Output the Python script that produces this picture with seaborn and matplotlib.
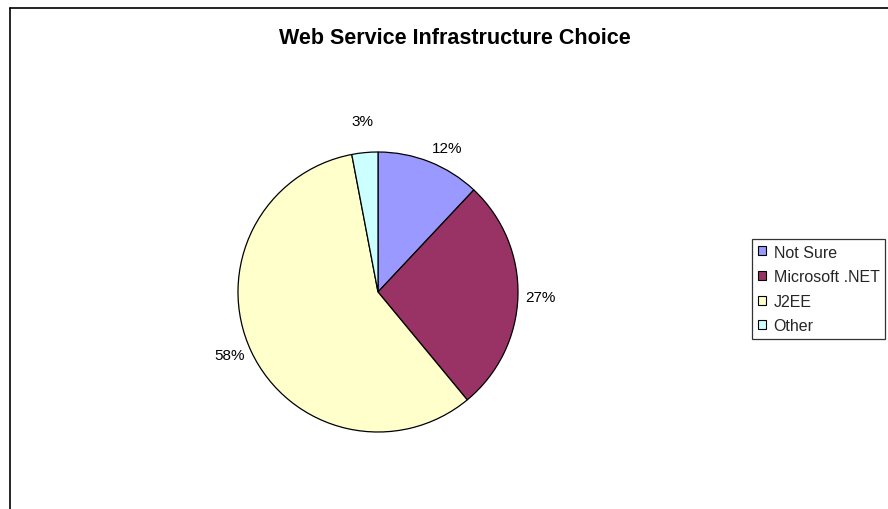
import matplotlib
matplotlib.use("Agg")
import numpy as np
import matplotlib.pyplot as plt
import seaborn as sns
from matplotlib.patches import Patch
from matplotlib.lines import Line2D

categories = ["Not Sure", "Microsoft .NET", "J2EE", "Other"]
values = [12, 27, 58, 3]
colors = ["#9999FF", "#993366", "#FFFFCC", "#CCFFFF"]
title = "Web Service Infrastructure Choice"
label_dist = [1.05, 1.05, 1.05, 1.18]

sns.set_theme(style="white")
plt.rcParams["font.family"] = ["Liberation Sans", "DejaVu Sans"]

W, H = 888, 510
fig = plt.figure(figsize=(W / 100, H / 100), dpi=100)
fig.patch.set_facecolor("white")

# outer chart frame (only left and top edges visible)
fig.add_artist(Line2D([10 / W, 10 / W], [0, 1 - 9 / H], color="black", lw=1.2, transform=fig.transFigure))
fig.add_artist(Line2D([10 / W, 1], [1 - 9 / H, 1 - 9 / H], color="black", lw=1.2, transform=fig.transFigure))

cx, cy, r = 378, 293, 140
ax = fig.add_axes([(cx - r) / W, (H - cy - r) / H, 2 * r / W, 2 * r / H])
wedges, texts = ax.pie(
    values,
    colors=colors,
    startangle=90,
    counterclock=False,
    labels=[f"{v}%" for v in values],
    labeldistance=1.1,
    wedgeprops=dict(edgecolor="black", linewidth=0.9),
    textprops=dict(fontsize=11, color="black"),
)
for w, t, d in zip(wedges, texts, label_dist):
    ang = np.deg2rad((w.theta1 + w.theta2) / 2)
    c, s = np.cos(ang), np.sin(ang)
    t.set_position((d * c, d * s))
    t.set_ha("center" if abs(c) < 0.2 else ("left" if c > 0 else "right"))
    t.set_va("center" if abs(s) < 0.5 else ("bottom" if s > 0 else "top"))
ax.set_xlim(-1, 1)
ax.set_ylim(-1, 1)
ax.set_aspect("equal")
ax.axis("off")

fig.text(455 / W, 1 - 39 / H, title, ha="center", va="center",
         fontsize=15.5, fontweight="bold", color="black")

handles = [Patch(facecolor=c, edgecolor="black", linewidth=0.8) for c in colors]
leg = fig.legend(handles, categories, loc="upper left",
                 bbox_to_anchor=(752 / W, 1 - 240 / H),
                 frameon=True, fancybox=False, shadow=False,
                 fontsize=11.5, handlelength=0.5, handleheight=0.5,
                 handletextpad=0.5, labelspacing=0.6, borderpad=0.35,
                 borderaxespad=0)
leg.get_frame().set_edgecolor("black")
leg.get_frame().set_linewidth(0.9)

fig.savefig("out.png", dpi=100, facecolor="white")
